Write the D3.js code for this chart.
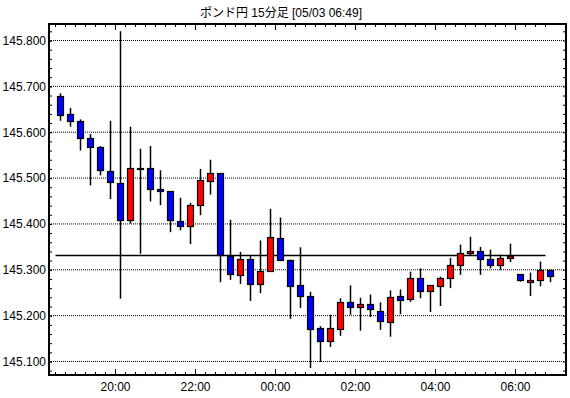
<!DOCTYPE html>
<html>
<head>
<meta charset="utf-8">
<script src="https://cdn.jsdelivr.net/npm/d3@7"></script>
<style>
  body { margin: 0; background: #fff; }
  svg { display: block; }
  text { font-family: "Liberation Sans", "Noto Sans CJK JP", sans-serif; fill: #000; }
</style>
</head>
<body>
<svg width="570" height="398"></svg>
<script>
var title = "ポンド円 15分足 [05/03 06:49]";

var times = ["18:30","18:45","19:00","19:15","19:30","19:45",
  "20:00","20:15","20:30","20:45","21:00","21:15","21:30","21:45",
  "22:00","22:15","22:30","22:45","23:00","23:15","23:30","23:45",
  "00:00","00:15","00:30","00:45","01:00","01:15","01:30","01:45",
  "02:00","02:15","02:30","02:45","03:00","03:15","03:30","03:45",
  "04:00","04:15","04:30","04:45","05:00","05:15","05:30","05:45",
  "06:00","06:15","06:30","06:45"];

var opens  = [145.680,145.639,145.624,145.587,145.567,145.516,145.489,145.409,145.523,145.522,
              145.477,145.472,145.407,145.396,145.441,145.494,145.511,145.331,145.289,145.324,
              145.270,145.298,145.370,145.322,145.267,145.243,145.172,145.143,145.172,145.230,
              145.220,145.226,145.210,145.186,145.243,145.237,145.283,145.254,145.265,145.283,
              145.311,145.337,145.341,145.324,145.311,145.326,145.291,145.274,145.278,145.300];
var highs  = [145.685,145.653,145.628,145.596,145.570,145.625,145.820,145.612,145.564,145.570,
              145.517,145.472,145.457,145.446,145.520,145.540,145.511,145.409,145.339,145.331,
              145.364,145.433,145.414,145.322,145.349,145.252,145.177,145.202,145.238,145.266,
              145.239,145.246,145.229,145.255,145.257,145.296,145.303,145.267,145.285,145.326,
              145.355,145.372,145.350,145.344,145.333,145.357,145.291,145.294,145.318,145.300];
var lows   = [145.625,145.612,145.560,145.484,145.506,145.454,145.237,145.401,145.335,145.449,
              145.441,145.382,145.386,145.356,145.419,145.464,145.273,145.278,145.269,145.232,
              145.249,145.298,145.319,145.193,145.217,145.086,145.099,145.132,145.156,145.202,
              145.167,145.197,145.169,145.154,145.203,145.230,145.238,145.208,145.221,145.260,
              145.289,145.331,145.289,145.303,145.300,145.317,145.274,145.243,145.264,145.273];
var closes = [145.639,145.624,145.587,145.567,145.516,145.491,145.409,145.522,145.523,145.476,
              145.472,145.409,145.396,145.441,145.496,145.511,145.332,145.291,145.324,145.270,
              145.298,145.372,145.322,145.265,145.243,145.172,145.143,145.172,145.230,145.220,
              145.226,145.215,145.189,145.241,145.235,145.283,145.254,145.267,145.283,145.311,
              145.337,145.342,145.324,145.311,145.326,145.330,145.277,145.278,145.300,145.287];

var refLevel = 145.332;

var yLabels = [145.1, 145.2, 145.3, 145.4, 145.5, 145.6, 145.7, 145.8];
var xLabels = ["20:00", "22:00", "00:00", "02:00", "04:00", "06:00"];

var svg = d3.select("svg"),
    frame = {left: 49, top: 24, right: 566, bottom: 375};

var candles = times.map(function(t, i) {
  return { time: t, open: opens[i], high: highs[i], low: lows[i], close: closes[i] };
});

var x = d3.scaleBand().domain(times).range([55.5, 555.5]).padding(0),
    y = d3.scaleLinear().domain([145.1, 145.8]).range([361.5, 40.5]);

var half = x.bandwidth() / 2;
function cx(d) { return x(d.time) + half; }

svg.append("rect")
   .attr("width", 570)
   .attr("height", 398)
   .attr("fill", "#fff");

// dotted grid
svg.append("g")
   .selectAll("line")
   .data(yLabels)
   .enter().append("line")
   .attr("x1", frame.left)
   .attr("x2", frame.right)
   .attr("y1", function(d) { return y(d); })
   .attr("y2", function(d) { return y(d); })
   .attr("stroke", "#000")
   .attr("stroke-width", 1)
   .attr("stroke-dasharray", "1,1");

// reference level
svg.append("line")
   .attr("x1", x(times[0]))
   .attr("x2", x(times[times.length - 1]))
   .attr("y1", Math.round(y(refLevel)) + 0.5)
   .attr("y2", Math.round(y(refLevel)) + 0.5)
   .attr("stroke", "#000")
   .attr("stroke-width", 1.5);

// wicks
svg.append("g")
   .selectAll("line")
   .data(candles)
   .enter().append("line")
   .attr("x1", cx)
   .attr("x2", cx)
   .attr("y1", function(d) { return y(d.high); })
   .attr("y2", function(d) { return y(d.low); })
   .attr("stroke", "#000")
   .attr("stroke-width", 1.5);

// bodies
svg.append("g")
   .selectAll("rect")
   .data(candles)
   .enter().append("rect")
   .attr("x", function(d) { return cx(d) - 3; })
   .attr("width", 6)
   .attr("y", function(d) { return Math.round(y(Math.max(d.open, d.close))) + 0.5; })
   .attr("height", function(d) { return Math.max(1, Math.round(Math.abs(y(d.open) - y(d.close)))); })
   .attr("fill", function(d) { return d.close >= d.open ? "#ff0000" : "#0000ff"; })
   .attr("stroke", "#000")
   .attr("stroke-width", 1.2);

// axes (ticks point inward, shifted to the band start)
var yMinor = d3.range(145.08, 145.83, 0.02);

svg.append("g")
   .attr("transform", "translate(" + frame.left + ",0)")
   .call(d3.axisLeft(y).tickValues(yMinor).tickSizeInner(-3).tickSizeOuter(0).tickFormat(""));

svg.append("g")
   .attr("transform", "translate(" + frame.left + ",0)")
   .call(d3.axisLeft(y).tickValues(yLabels).tickSizeInner(-3).tickSizeOuter(0).tickPadding(3)
         .tickFormat(d3.format(".3f")))
   .call(function(g) { g.selectAll("text").style("font-size", "12px"); });

svg.append("g")
   .attr("transform", "translate(" + frame.right + ",0)")
   .call(d3.axisRight(y).tickValues(yMinor).tickSizeInner(-3).tickSizeOuter(0).tickFormat(""));

svg.append("g")
   .attr("transform", "translate(" + (-half) + "," + frame.bottom + ")")
   .call(d3.axisBottom(x).tickSizeInner(-3).tickSizeOuter(0).tickFormat(""));

svg.append("g")
   .attr("transform", "translate(" + (-half) + "," + frame.bottom + ")")
   .call(d3.axisBottom(x).tickValues(xLabels).tickSizeInner(-6).tickSizeOuter(0).tickPadding(7))
   .call(function(g) { g.selectAll("text").style("font-size", "12px"); });

svg.append("g")
   .attr("transform", "translate(" + (-half) + "," + frame.top + ")")
   .call(d3.axisTop(x).tickSizeInner(-3).tickSizeOuter(0).tickFormat(""));

svg.append("g")
   .attr("transform", "translate(" + (-half) + "," + frame.top + ")")
   .call(d3.axisTop(x).tickValues(xLabels).tickSizeInner(-6).tickSizeOuter(0).tickFormat(""));

svg.selectAll(".domain").remove();
svg.selectAll(".tick line").attr("stroke", "#000");
svg.selectAll(".tick text").attr("font-family", null);

// frame
svg.append("rect")
   .attr("x", frame.left)
   .attr("y", frame.top)
   .attr("width", frame.right - frame.left)
   .attr("height", frame.bottom - frame.top)
   .attr("fill", "none")
   .attr("stroke", "#000")
   .attr("stroke-width", 2);

svg.append("text")
   .attr("x", 281)
   .attr("y", 17)
   .attr("text-anchor", "middle")
   .style("font-size", "12px")
   .text(title);
</script>
</body>
</html>
